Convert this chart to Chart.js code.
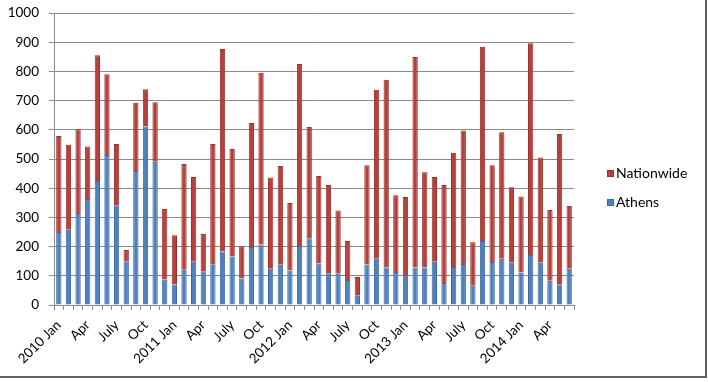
<!DOCTYPE html>
<html>
<head>
<meta charset="utf-8">
<script src="https://cdn.jsdelivr.net/npm/chart.js@4/dist/chart.umd.min.js"></script>
<style>
  html, body { margin:0; padding:0; background:#fff; }
  #frame { position:absolute; left:0; top:0; width:705px; height:376px;
           border-right:2px solid #606060; border-bottom:2px solid #606060; }
  #chart { display:block; }
  .legend { position:absolute; left:607px; font:14px Lato, sans-serif; color:#000; }
  .legend span { display:inline-block; width:5px; height:5px; margin-right:2px; vertical-align:1px; }
</style>
</head>
<body>
<div id="frame">
  <canvas id="chart" width="705" height="376"></canvas>
  <div class="legend" style="top:164px"><span style="background:#b5403c;border:1px solid #9a2f2b"></span>Nationwide</div>
  <div class="legend" style="top:193px"><span style="background:#4f81bd;border:1px solid #3b67a3"></span>Athens</div>
</div>
<script>
// categories (months); only every 3rd gets a label on the axis
const months = [
  "2010 Jan","Feb","Mar","Apr","May","June","July","Aug","Sep","Oct","Nov","Dec",
  "2011 Jan","Feb","Mar","Apr","May","June","July","Aug","Sep","Oct","Nov","Dec",
  "2012 Jan","Feb","Mar","Apr","May","June","July","Aug","Sep","Oct","Nov","Dec",
  "2013 Jan","Feb","Mar","Apr","May","June","July","Aug","Sep","Oct","Nov","Dec",
  "2014 Jan","Feb","Mar","Apr","May","June"
];

// Athens (bottom segment)
const athens = [
  250,258,315,363,425,514,342,150,459,611,491,87,
  70,121,148,116,138,183,166,91,199,207,124,138,
  118,202,229,142,107,107,86,32,139,158,128,113,
  103,128,128,148,75,130,140,66,219,147,158,145,
  111,171,145,83,71,124
];

// Nationwide (stacked on top)
const nationwide = [
  329,291,287,180,430,276,209,38,234,128,203,242,
  169,362,290,127,413,694,368,110,424,588,313,338,
  231,623,381,300,304,217,133,64,340,579,643,263,
  267,721,327,290,336,391,458,149,665,332,434,258,
  261,725,360,242,515,215
];

const yTicks = { min:0, max:1000, step:100 };
const gridColor = "#8c8c8c";
const font = { family:"Lato, sans-serif", size:13.5 };

const ctx = document.getElementById("chart").getContext("2d");
new Chart(ctx, {
  type: "bar",
  data: {
    labels: months,
    datasets: [
      { label:"Athens", data:athens, backgroundColor:"#4f81bd", borderColor:"#3b67a3",
        borderWidth:1, barPercentage:0.55, categoryPercentage:1 },
      { label:"Nationwide", data:nationwide, backgroundColor:"#b5403c", borderColor:"#9a2f2b",
        borderWidth:1, barPercentage:0.55, categoryPercentage:1 }
    ]
  },
  options: {
    responsive:false,
    animation:false,
    layout:{ padding:{ top:13, right:131, left:0, bottom:0 } },
    plugins:{ legend:{ display:false }, tooltip:{ enabled:false } },
    scales:{
      x:{
        stacked:true,
        grid:{ display:true, drawOnChartArea:false, drawTicks:true, tickLength:5, color:gridColor, offset:true },
        border:{ color:gridColor },
        ticks:{
          autoSkip:false, maxRotation:45, minRotation:45, padding:7,
          color:"#000", font,
          callback:(v, i) => i % 3 === 0 ? months[i] : ""
        },
        afterFit:(s) => { s.height = 71; s.paddingLeft = 0; s.paddingRight = 0; }
      },
      y:{
        stacked:true,
        min:yTicks.min, max:yTicks.max,
        grid:{ color:gridColor, tickLength:5 },
        border:{ color:gridColor },
        ticks:{ stepSize:yTicks.step, color:"#000", font, padding:10, callback:(v) => String(v) },
        afterFit:(s) => { s.width = 54; s.paddingTop = 0; s.paddingBottom = 0; }
      }
    }
  }
});
</script>
</body>
</html>
